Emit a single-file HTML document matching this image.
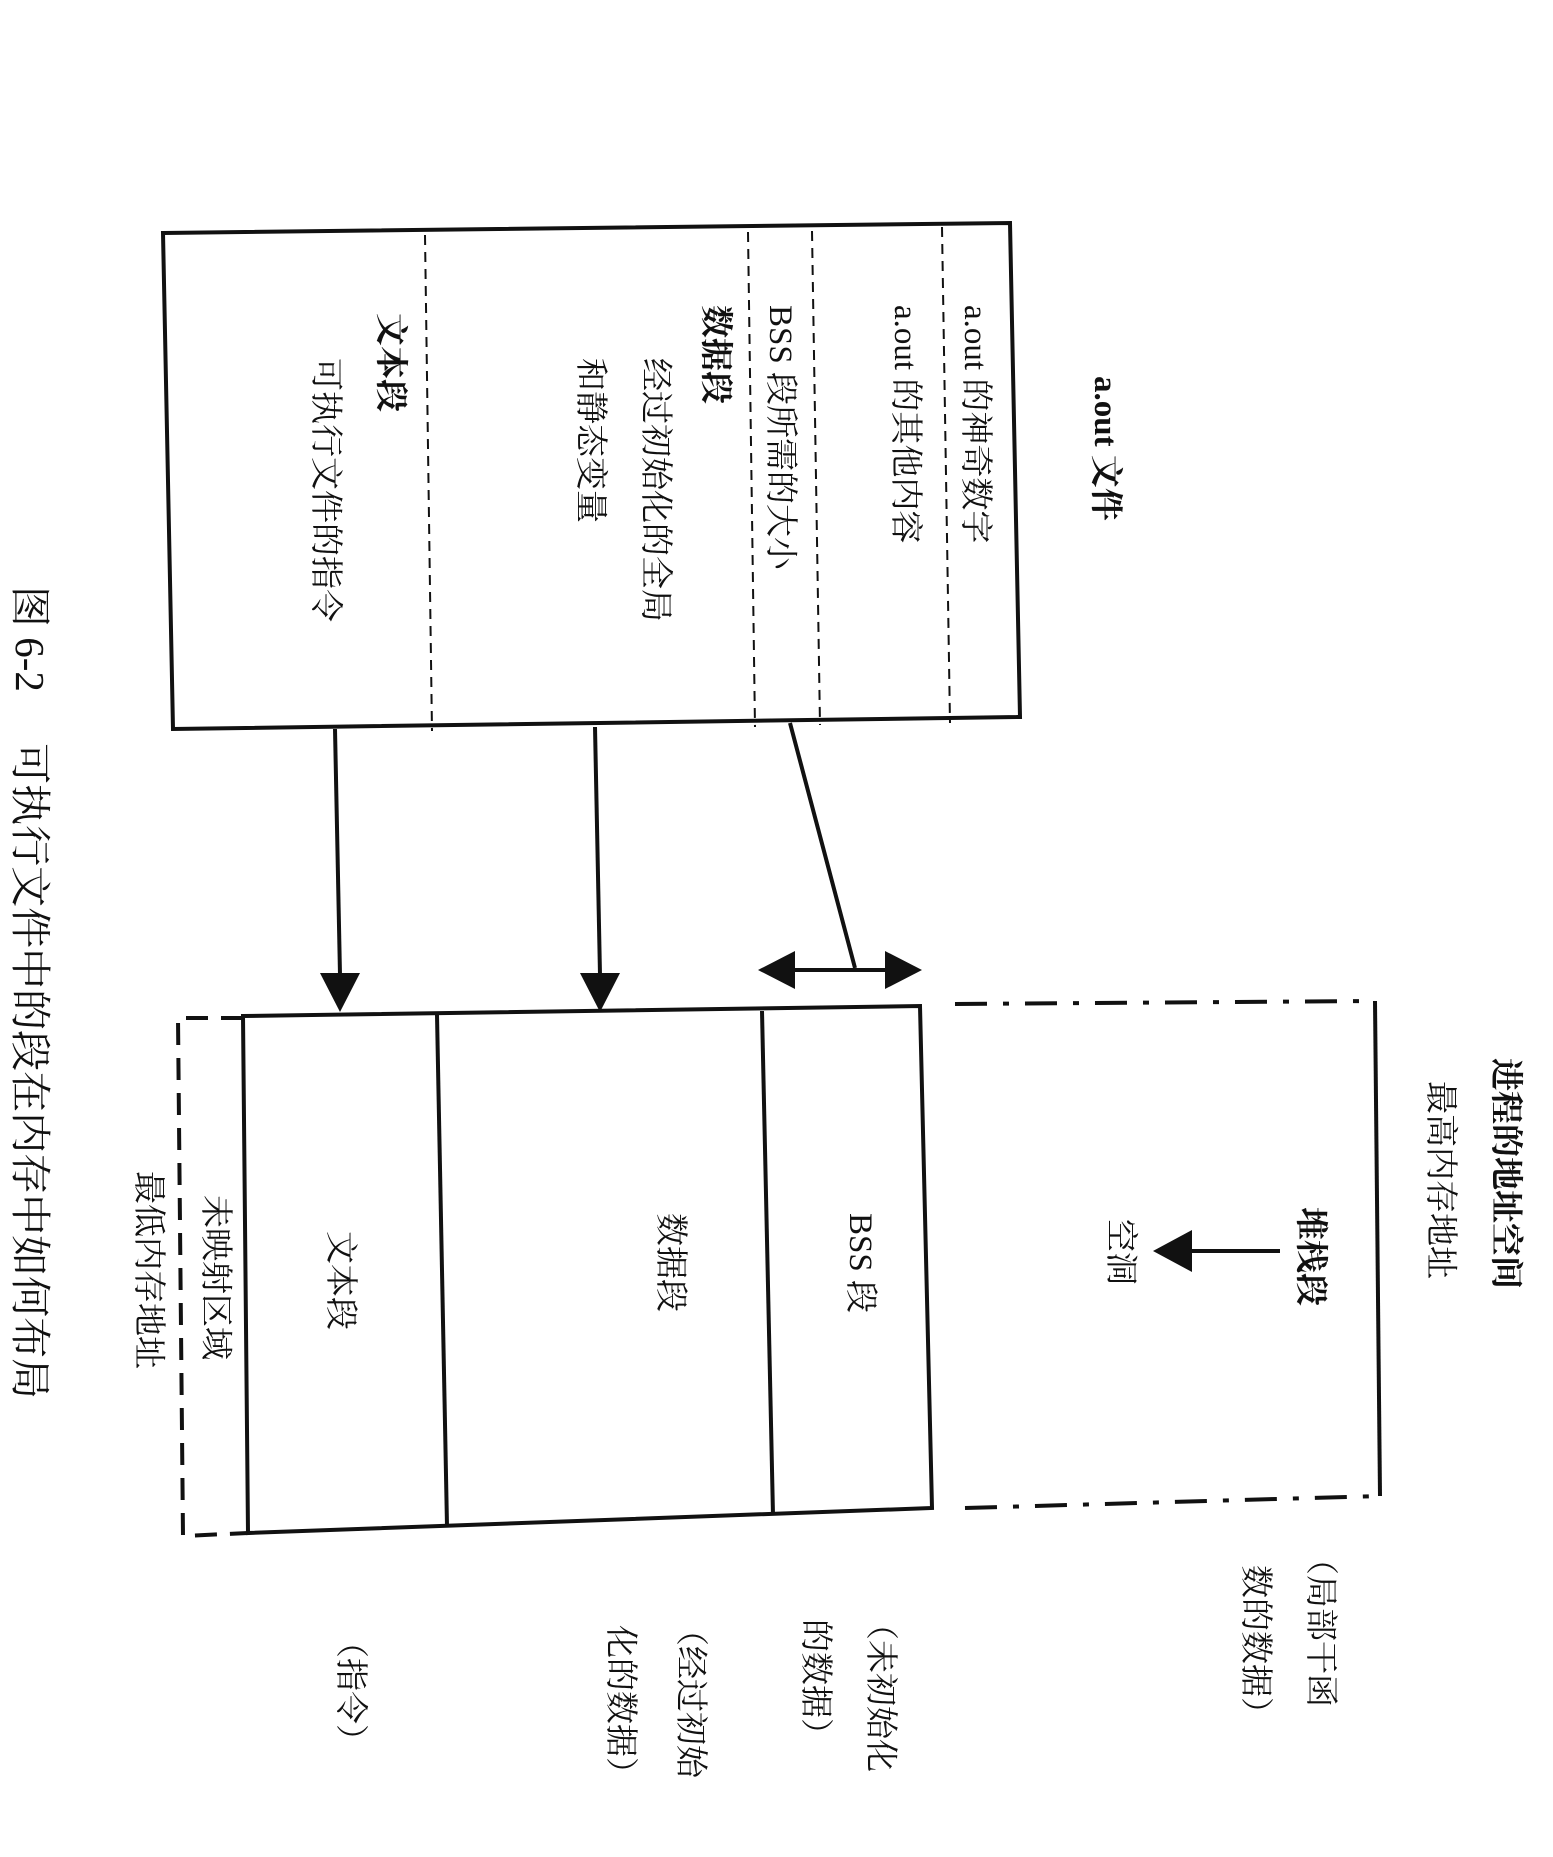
<!DOCTYPE html>
<html><head><meta charset="utf-8"><style>
html,body{margin:0;padding:0;background:#fff;}
svg{display:block;}
text{font-family:"Liberation Serif","Noto Serif CJK SC","Noto Sans CJK SC",serif;font-size:33px;fill:#111;dominant-baseline:central;}
.b{font-weight:bold;}
</style></head><body>
<svg width="1553" height="1857" viewBox="0 0 1553 1857" xmlns="http://www.w3.org/2000/svg">
<g stroke="#111" fill="none">
<polygon points="163,233 1010,223 1020,717 173,729" stroke-width="4"/>
<g stroke-width="2" stroke-dasharray="10,7">
<line x1="425" y1="235" x2="432" y2="731"/>
<line x1="748" y1="232" x2="755" y2="727"/>
<line x1="812" y1="231" x2="820" y2="725"/>
<line x1="942" y1="227" x2="950" y2="723"/>
</g>
<line x1="335" y1="729" x2="340" y2="975" stroke-width="4"/>
<line x1="595" y1="727" x2="600" y2="975" stroke-width="4"/>
<line x1="790" y1="723" x2="855" y2="968" stroke-width="4"/>
<line x1="790" y1="970" x2="890" y2="970" stroke-width="4"/>
<polygon points="243,1016 920,1006 932,1508 248,1533" stroke-width="4"/>
<line x1="437" y1="1015" x2="447" y2="1526" stroke-width="4"/>
<line x1="762" y1="1011" x2="773" y2="1515" stroke-width="4"/>
<polyline points="243,1018 178,1018 183,1536 248,1533" stroke-width="4" stroke-dasharray="22,13"/>
<line x1="955" y1="1004" x2="1375" y2="1001" stroke-width="4" stroke-dasharray="32,16,6,16"/>
<line x1="1375" y1="1001" x2="1380" y2="1496" stroke-width="4"/>
<line x1="965" y1="1508" x2="1380" y2="1496" stroke-width="4" stroke-dasharray="32,16,6,16"/>
<line x1="1280" y1="1251" x2="1190" y2="1251" stroke-width="4"/>
</g>
<g fill="#111">
<polygon points="320,973 360,973 340,1012"/>
<polygon points="580,973 620,973 600,1012"/>
<polygon points="758,970 795,951 795,989"/>
<polygon points="922,970 885,951 885,989"/>
<polygon points="1153,1251 1192,1230 1192,1272"/>
</g>
<g>
<text class="b" transform="translate(1105,376) rotate(90)">a.out 文件</text>
<text transform="translate(975,305) rotate(90)">a.out 的神奇数字</text>
<text transform="translate(905,305) rotate(90)">a.out 的其他内容</text>
<text transform="translate(780,305) rotate(90)">BSS 段所需的大小</text>
<text class="b" transform="translate(715,305) rotate(90)">数据段</text>
<text transform="translate(655,358) rotate(90)">经过初始化的全局</text>
<text transform="translate(590,358) rotate(90)">和静态变量</text>
<text class="b" transform="translate(390,313) rotate(90)">文本段</text>
<text transform="translate(325,358) rotate(90)">可执行文件的指令</text>
<text style="font-size:41px" transform="translate(30,586) rotate(90)">图 6-2　 可执行文件中的段在内存中如何布局</text>
<text transform="translate(340,1231) rotate(90)">文本段</text>
<text transform="translate(670,1213) rotate(90)">数据段</text>
<text transform="translate(860,1213) rotate(90)">BSS 段</text>
<text transform="translate(215,1195) rotate(90)">未映射区域</text>
<text transform="translate(148,1171) rotate(90)">最低内存地址</text>
<text class="b" transform="translate(1505,1058) rotate(90)">进程的地址空间</text>
<text transform="translate(1440,1081) rotate(90)">最高内存地址</text>
<text class="b" transform="translate(1310,1207) rotate(90)">堆栈段</text>
<text transform="translate(1120,1219) rotate(90)">空洞</text>
<text transform="translate(1320,1542) rotate(90)">（局部干函</text>
<text transform="translate(1255,1565) rotate(90)">数的数据）</text>
<text transform="translate(880,1607) rotate(90)">（未初始化</text>
<text transform="translate(815,1619) rotate(90)">的数据）</text>
<text transform="translate(690,1613) rotate(90)">（经过初始</text>
<text transform="translate(620,1625) rotate(90)">化的数据）</text>
<text transform="translate(350,1625) rotate(90)">（指令）</text>
</g>
</svg>
</body></html>
